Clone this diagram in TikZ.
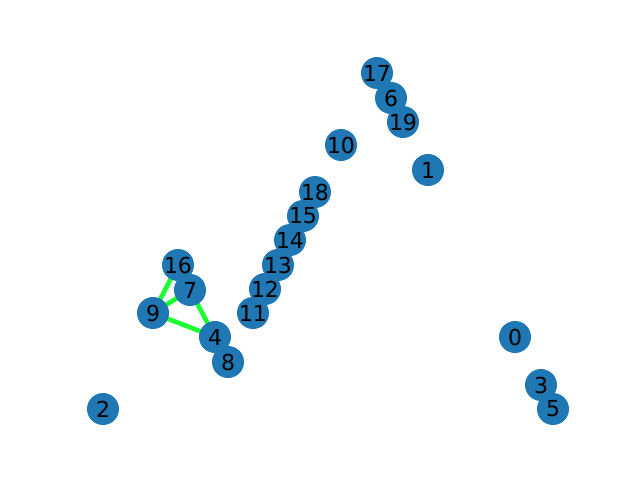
\documentclass[tikz,border=0pt]{standalone}
\usepackage{fontspec}
\setmainfont{DejaVu Sans}
\definecolor{nodeblue}{HTML}{1F77B4}
\definecolor{edgegreen}{RGB}{30,255,50}

\begin{document}
\begin{tikzpicture}[
  x=0.75pt, y=-0.75pt,
  vertex/.style={circle, fill=nodeblue, inner sep=0pt, minimum size=24pt},
  vlabel/.style={font=\fontsize{16.5}{16.5}\selectfont, inner sep=0pt},
  link/.style={edgegreen, line width=3.5pt}
]
\useasboundingbox (0,0) rectangle (640,480);

% Vertex positions
\foreach \name/\px/\py in {17/377/73, 6/391/98, 19/403/122, 10/341/145, 1/428/170,
  18/315/192, 15/303/216, 14/290/240, 13/278/265, 12/265/289, 11/253/313,
  16/178/265, 7/190/290, 9/153/313, 4/215/337, 8/228/362,
  2/103/409, 0/515/337, 3/541/385, 5/553/409}
  \coordinate (p\name) at (\px,\py);

% Edges
\draw[link] (p16) -- (p9);
\draw[link] (p9) -- (p7);
\draw[link] (p9) -- (p4);
\draw[link] (p7) -- (p4);

% Vertices
\foreach \name in {0,1,...,19}
  \node[vertex] (v\name) at (p\name) {};

% Labels
\foreach \name in {0,1,...,19}
  \node[vlabel] (l\name) at (p\name) {\name};

\end{tikzpicture}
\end{document}
